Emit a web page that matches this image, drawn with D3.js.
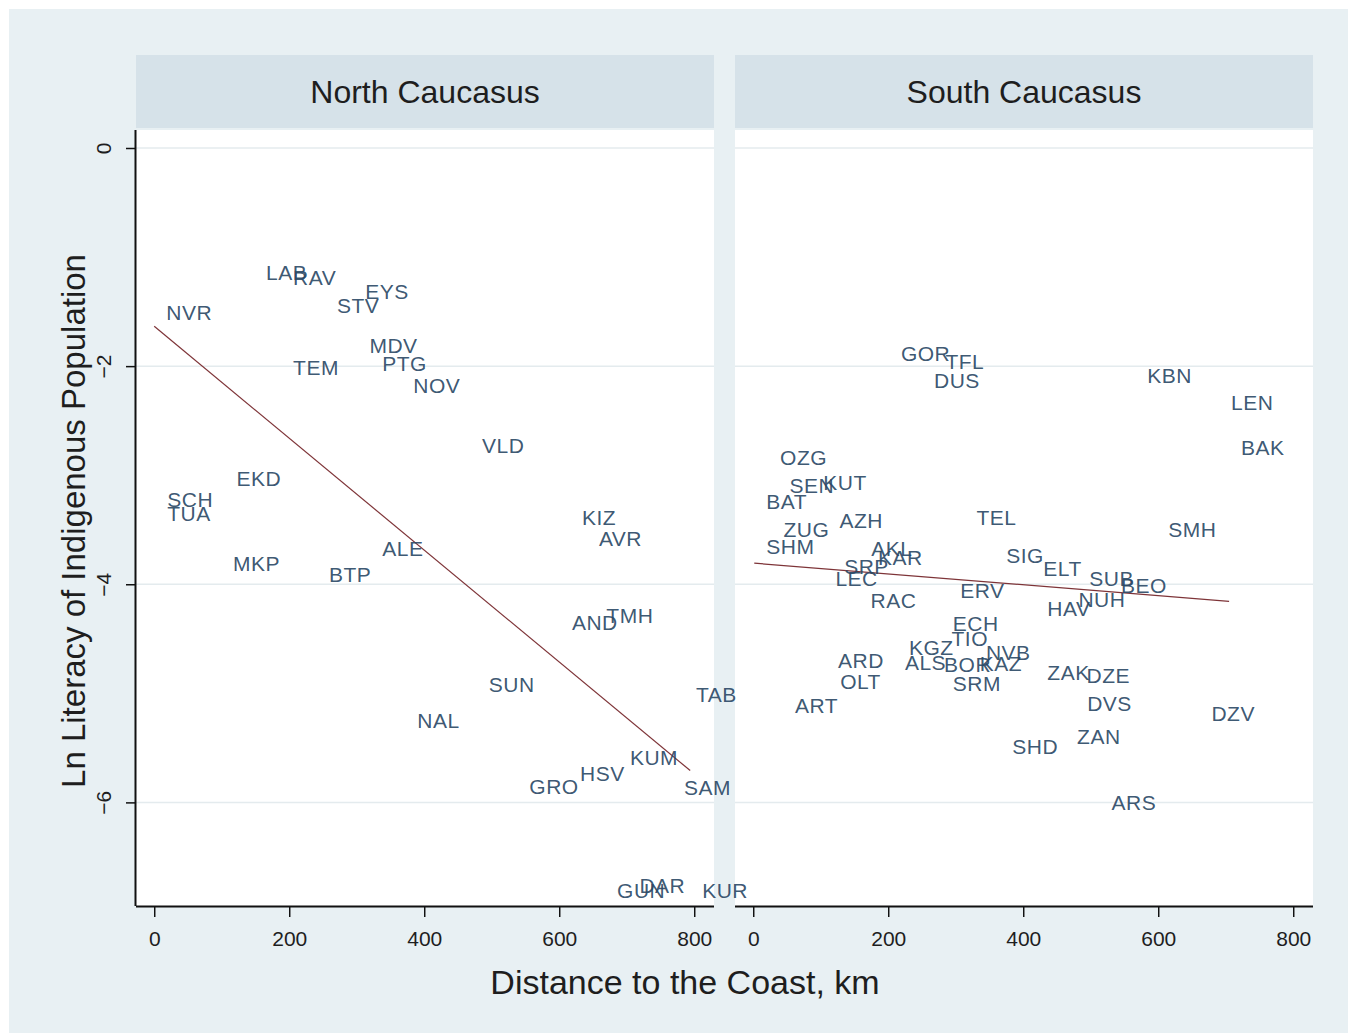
<!DOCTYPE html>
<html>
<head>
<meta charset="utf-8">
<script src="https://cdn.jsdelivr.net/npm/d3@7"></script>
<style>
  html, body { margin: 0; padding: 0; background: #ffffff; }
  svg { display: block; }
  text { font-family: "Liberation Sans", Arial, sans-serif; }
</style>
</head>
<body>
<svg id="chart" width="1348" height="1033"></svg>
<script>
// ---- data ---------------------------------------------------------------
const panelTitles = ["North Caucasus", "South Caucasus"];

const northNames = ["NVR","LAB","RAV","EYS","STV","MDV","PTG","NOV","TEM","EKD",
  "SCH","TUA","MKP","BTP","ALE","VLD","KIZ","AVR","AND","TMH",
  "SUN","NAL","TAB","KUM","HSV","GRO","SAM","GUN","DAR","KUR"];
const northDist = [0, 148, 188, 295, 253, 301, 320, 366, 188, 104,
  1.5, 1.5, 99, 241, 320, 468, 616, 641, 601, 652,
  478, 372, 785, 687, 613, 538, 767, 668, 701, 794];
const northLit = [-1.505, -1.138, -1.183, -1.312, -1.440, -1.807, -1.972, -2.174, -2.009, -3.028,
  -3.220, -3.349, -3.807, -3.908, -3.670, -2.725, -3.385, -3.578, -4.349, -4.284,
  -4.917, -5.248, -5.009, -5.587, -5.734, -5.853, -5.862, -6.807, -6.761, -6.807];

const southNames = ["GOR","TFL","DUS","OZG","SEN","KUT","BAT","ZUG","AZH","TEL",
  "SHM","AKL","KAR","SIG","SRP","LEC","RAC","ERV","ECH","TIO",
  "KGZ","NVB","ALS","BOR","KAZ","ARD","OLT","SRM","ART","ELT",
  "SUB","BEO","NUH","HAV","ZAK","DZE","DVS","DZV","ZAN","SHD",
  "ARS","KBN","LEN","BAK","SMH"];
const southDist = [201, 267, 250, 22, 36, 86, 1.5, 27, 110, 313,
  1.5, 157, 167, 357, 117, 104, 156, 289, 278, 276,
  213, 327, 207, 265, 318, 108, 111, 278, 44, 412,
  480, 527, 464, 418, 418, 476, 477, 661, 462, 366,
  513, 566, 690, 705, 597];
const southLit = [-1.881, -1.954, -2.128, -2.835, -3.092, -3.064, -3.239, -3.495, -3.413, -3.385,
  -3.651, -3.670, -3.752, -3.734, -3.835, -3.945, -4.147, -4.055, -4.358, -4.495,
  -4.578, -4.624, -4.716, -4.734, -4.725, -4.697, -4.890, -4.908, -5.110, -3.853,
  -3.945, -4.009, -4.138, -4.220, -4.807, -4.835, -5.092, -5.183, -5.394, -5.486,
  -6.000, -2.083, -2.330, -2.743, -3.495];

// linear fit per panel: intercept and slope
const fitIntercept = [-1.635, -3.806];
const fitSlope = [-0.00513, -0.000497];

const xTicks = [0, 200, 400, 600, 800];
const yTicks = [0, -2, -4, -6];
const xTitle = "Distance to the Coast, km";
const yTitle = "Ln Literacy of Indigenous Population";

// ---- layout -------------------------------------------------------------
const svg = d3.select("#chart");
const W = 1348, H = 1033;
const plotTop = 130, plotBottom = 906;
const panelLeft = [136, 735];
const panelWidth = 578;
const stripTop = 55, stripBottom = 128;

const bgColor = "#e8f0f3";
const stripColor = "#d6e2e9";
const labelColor = "#2c4966";
const fitColor = "#7e3438";
const fontStack = "'Liberation Sans', Arial, sans-serif";

svg.append("rect").attr("x", 0).attr("y", 0).attr("width", W).attr("height", H).attr("fill", "#ffffff");
svg.append("rect").attr("x", 9).attr("y", 9).attr("width", W - 9).attr("height", H - 9).attr("fill", bgColor);

const y = d3.scaleLinear().domain([-6.95, 0.165]).range([plotBottom, plotTop]);

const panels = [
  { names: northNames, dist: northDist, lit: northLit },
  { names: southNames, dist: southDist, lit: southLit }
].map((p, i) => {
  const x0 = panelLeft[i];
  p.x0 = x0;
  p.x = d3.scaleLinear().domain([-27, 829.3]).range([x0, x0 + panelWidth]);
  return p;
});

// layers: backgrounds first, marks afterwards so labels can spill across panels
const gBack = svg.append("g");
const gFit = svg.append("g");
const gLab = svg.append("g");
const gAxes = svg.append("g");

panels.forEach((p, i) => {
  const x0 = p.x0, x = p.x;

  // strip
  gBack.append("rect").attr("x", x0).attr("y", stripTop)
    .attr("width", panelWidth).attr("height", stripBottom - stripTop)
    .attr("fill", stripColor);
  gBack.append("text")
    .attr("x", x0 + panelWidth / 2).attr("y", (stripTop + stripBottom) / 2)
    .attr("dy", "0.36em").attr("text-anchor", "middle")
    .attr("font-size", 32).attr("fill", "#1e1e1e")
    .text(panelTitles[i]);

  // plot region
  gBack.append("rect").attr("x", x0).attr("y", plotTop)
    .attr("width", panelWidth).attr("height", plotBottom - plotTop)
    .attr("fill", "#ffffff");

  // horizontal grid
  gBack.append("g").selectAll("line").data(yTicks).join("line")
    .attr("x1", x0).attr("x2", x0 + panelWidth)
    .attr("y1", d => y(d)).attr("y2", d => y(d))
    .attr("stroke", "#e4ebee").attr("stroke-width", 1.5);

  // fitted line over the panel's range of distances
  const xmin = d3.min(p.dist), xmax = d3.max(p.dist);
  const fitPts = [xmin, xmax].map(d => [d, fitIntercept[i] + fitSlope[i] * d]);
  gFit.append("path")
    .attr("d", d3.line().x(d => x(d[0])).y(d => y(d[1]))(fitPts))
    .attr("stroke", fitColor).attr("stroke-width", 1.2).attr("fill", "none");

  // marker labels placed at 3 o'clock of each point
  gLab.append("g").selectAll("text").data(p.names).join("text")
    .attr("x", (d, k) => x(p.dist[k]) + 12)
    .attr("y", (d, k) => y(p.lit[k]))
    .attr("dy", "0.36em")
    .attr("font-size", 21).attr("letter-spacing", 0.5)
    .attr("fill", labelColor).attr("fill-opacity", 0.92)
    .text(d => d);

  // x axis
  const xAxis = d3.axisBottom(x).tickValues(xTicks).tickSize(11).tickPadding(14)
    .tickFormat(d3.format("d"));
  const ax = gAxes.append("g").attr("transform", `translate(0,${plotBottom})`).call(xAxis);
  ax.select(".domain").attr("d", `M${x0},0.5H${x0 + panelWidth}`)
    .attr("stroke", "#111").attr("stroke-width", 2);
  ax.selectAll(".tick line").attr("stroke", "#111").attr("stroke-width", 1.5);
  ax.selectAll(".tick text").attr("font-size", 21).attr("fill", "#1e1e1e")
    .attr("font-family", fontStack);
});

// y axis on the first panel
const yAxis = d3.axisLeft(y).tickValues(yTicks).tickSize(10).tickFormat(d3.format("d"));
const ay = gAxes.append("g").attr("transform", `translate(${panelLeft[0]},0)`).call(yAxis);
ay.select(".domain").attr("d", `M-0.5,${plotTop}V${plotBottom}`)
  .attr("stroke", "#111").attr("stroke-width", 2);
ay.selectAll(".tick line").attr("stroke", "#111").attr("stroke-width", 1.5);
ay.selectAll(".tick text")
  .attr("x", null).attr("dy", null)
  .attr("transform", "translate(-33,0) rotate(-90)")
  .attr("text-anchor", "middle").attr("dominant-baseline", "central")
  .attr("font-size", 21).attr("fill", "#1e1e1e")
  .attr("font-family", fontStack);

// axis titles
svg.append("text")
  .attr("x", 685).attr("y", 982).attr("dy", "0.36em")
  .attr("text-anchor", "middle").attr("font-size", 34).attr("fill", "#1e1e1e")
  .text(xTitle);
svg.append("text")
  .attr("transform", `translate(73,${(plotTop + plotBottom) / 2 + 3}) rotate(-90)`)
  .attr("dy", "0.36em")
  .attr("text-anchor", "middle").attr("font-size", 33).attr("fill", "#1e1e1e")
  .text(yTitle);
</script>
</body>
</html>
